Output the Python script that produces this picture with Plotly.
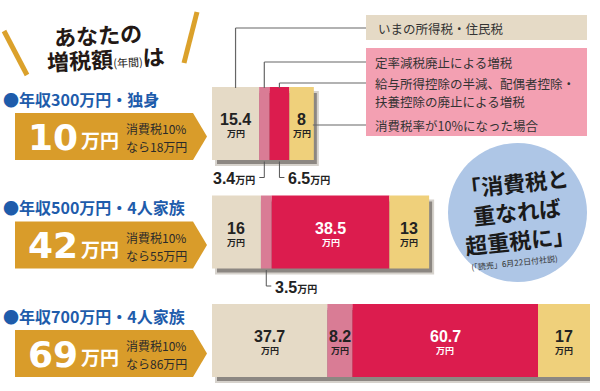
import plotly.graph_objects as go

# ---------------- data ----------------
rows = ["年収300万円・独身", "年収500万円・4人家族", "年収700万円・4人家族"]
increase_label = ["10", "42", "69"]          # 増税額 (万円)
with_vat_label = ["18", "55", "86"]          # 消費税10%なら (万円)
categories = [
    "いまの所得税・住民税",
    "定率減税廃止による増税",
    "給与所得控除の半減、配偶者控除・<br>扶養控除の廃止による増税",
    "消費税率が10%になった場合",
]
income_tax = [15.4, 16, 37.7]
flat_cut_abolished = [3.4, 3.5, 8.2]
deduction_cut = [6.5, 38.5, 60.7]
consumption_tax = [8, 13, 17]
series = [income_tax, flat_cut_abolished, deduction_cut, consumption_tax]

# ---------------- styles / layout helpers ----------------
W, H = 600, 391
X0, X1 = 212, 590            # pixel span of the bar axis
ROW0, ROWSP = 123.5, 108.5   # pixel centre of first row and row spacing
BAR_PX = 73
colors = ["#E5DAC6", "#D97C95", "#DC1C4E", "#EFD07B"]
label_colors = ["#222222", "#222222", "#FFFFFF", "#222222"]
JP = "Noto Sans CJK JP"
NUM = "Liberation Sans, Noto Sans CJK JP"
BIG = "DejaVu Sans"

n_rows = len(rows)
row_idx = list(range(n_rows))
totals = [sum(s[i] for s in series) for i in row_idx]
xmax = max(totals)
pxu = (X1 - X0) / xmax
BW = BAR_PX / ROWSP


def PX(px):
    return px / W


def PY(py):
    return 1 - py / H


def DX(px):
    return (px - X0) / pxu


def row_py(i):
    return ROW0 + i * ROWSP


fig = go.Figure()

# shadow behind each bar
fig.add_trace(go.Bar(
    orientation="h", y=row_idx, x=totals, base=[4 / pxu] * n_rows,
    width=BW, offset=-BW / 2 + 5 / ROWSP,
    marker=dict(color="#8C8782", line=dict(color="#D6D2CC", width=2)),
    hoverinfo="skip", showlegend=False,
))

# stacked segments
bases = []
for k, s in enumerate(series):
    b = [sum(series[j][i] for j in range(k)) for i in row_idx]
    bases.append(b)
    fig.add_trace(go.Bar(
        orientation="h", y=row_idx, x=s, base=b, width=BW,
        marker=dict(color=colors[k], line=dict(width=0)),
        name=categories[k], hoverinfo="skip", showlegend=False,
    ))

ann = []
shapes = []

# value labels
outside_side = {(0, 1): "left", (0, 2): "right", (1, 1): "right"}
for k, s in enumerate(series):
    for i in row_idx:
        v = s[i]
        cx = bases[k][i] + v / 2
        txt = f"{v:g}"
        if v >= 7:
            ann.append(dict(x=cx, y=i, xref="x", yref="y", text=f"<b>{txt}</b>",
                            showarrow=False, yshift=4, xanchor="center", yanchor="middle",
                            font=dict(family=NUM, size=16, color=label_colors[k])))
            ann.append(dict(x=cx, y=i, xref="x", yref="y", text="<b>万円</b>",
                            showarrow=False, yshift=-10, xanchor="center", yanchor="middle",
                            font=dict(family=JP, size=9, color=label_colors[k])))
        else:
            side = outside_side.get((i, k), "right")
            cy = row_py(i)
            ytxt = cy + 55
            shapes.append(dict(type="line", xref="x", yref="paper", x0=cx, x1=cx,
                               y0=PY(cy + 38), y1=PY(ytxt - 1),
                               line=dict(color="#555", width=1)))
            dx = -5 / pxu if side == "left" else 5 / pxu
            shapes.append(dict(type="line", xref="x", yref="paper", x0=cx, x1=cx + dx,
                               y0=PY(ytxt - 1), y1=PY(ytxt - 1),
                               line=dict(color="#555", width=1)))
            ann.append(dict(x=cx + dx + (-2 / pxu if side == "left" else 2 / pxu),
                            y=PY(ytxt), xref="x", yref="paper",
                            xanchor="right" if side == "left" else "left", yanchor="middle",
                            text=f"<b>{txt}</b><span style='font-size:10px'><b>万円</b></span>",
                            showarrow=False,
                            font=dict(family=NUM, size=16, color="#222")))

# legend boxes
shapes.append(dict(type="rect", xref="paper", yref="paper", x0=PX(366), x1=PX(587),
                   y0=PY(15), y1=PY(40), fillcolor="#E5DAC6", line=dict(width=0), layer="below"))
shapes.append(dict(type="rect", xref="paper", yref="paper", x0=PX(366), x1=PX(587),
                   y0=PY(48), y1=PY(136), fillcolor="#F3A0B2", line=dict(width=0), layer="below"))
legend_text_py = [[28], [62], [83, 101], [125]]
legend_line_py = [28, 62, 83, 125]
for k, cat in enumerate(categories):
    for line_txt, ly in zip(cat.split("<br>"), legend_text_py[k]):
        ann.append(dict(x=PX(373 if k else 376), y=PY(ly), xref="paper", yref="paper",
                        xanchor="left", yanchor="middle", text=line_txt, showarrow=False,
                        font=dict(family=JP, size=12.5, color="#333")))
# connector lines from legend to first row
top0 = row_py(0) - BAR_PX / 2
for k in range(3):
    cx = bases[k][0] + series[k][0] / 2
    ly = legend_line_py[k]
    shapes.append(dict(type="line", xref="x", yref="paper", x0=cx, x1=cx,
                       y0=PY(top0 + 1), y1=PY(ly), line=dict(color="#666", width=1.2)))
    shapes.append(dict(type="line", xref="x", yref="paper", x0=cx, x1=DX(366),
                       y0=PY(ly), y1=PY(ly), line=dict(color="#666", width=1.2)))
shapes.append(dict(type="line", xref="x", yref="paper", x0=totals[0] - 1 / pxu, x1=DX(366),
                   y0=PY(legend_line_py[3]), y1=PY(legend_line_py[3]),
                   line=dict(color="#666", width=1.2)))

# row headers and arrow labels
for i in row_idx:
    cy = row_py(i)
    ann.append(dict(x=PX(1), y=PY(cy - 25), xref="paper", yref="paper", xanchor="left",
                    yanchor="middle", text="<b>●" + rows[i] + "</b>", showarrow=False,
                    font=dict(family=JP, size=16, color="#1E5CAB")))
    t, b = cy - 10.5, cy + 36.5
    path = (f"M {PX(15)},{PY(t)} L {PX(193)},{PY(t)} L {PX(207)},{PY((t + b) / 2)} "
            f"L {PX(193)},{PY(b)} L {PX(15)},{PY(b)} Z")
    shapes.append(dict(type="path", xref="paper", yref="paper", path=path,
                       fillcolor="#D99C2A", line=dict(width=0), layer="below"))
    ann.append(dict(x=PX(27), y=PY(cy + 14), xref="paper", yref="paper", xanchor="left",
                    yanchor="middle", showarrow=False, borderpad=0,
                    text=f"<b>{increase_label[i]}</b>",
                    font=dict(family=BIG, size=36, color="#FFFFFF")))
    ann.append(dict(x=PX(80), y=PY(cy + 16), xref="paper", yref="paper", xanchor="left",
                    yanchor="middle", showarrow=False, borderpad=0,
                    text="<b>万円</b>",
                    font=dict(family=JP, size=19, color="#FFFFFF")))
    ann.append(dict(x=PX(125), y=PY(cy + 5), xref="paper", yref="paper", xanchor="left",
                    yanchor="middle", showarrow=False, borderpad=0,
                    text="消費税10%",
                    font=dict(family=JP, size=12, color="#2A2A2A")))
    ann.append(dict(x=PX(125), y=PY(cy + 23), xref="paper", yref="paper", xanchor="left",
                    yanchor="middle", showarrow=False, borderpad=0,
                    text=f"なら{with_vat_label[i]}万円",
                    font=dict(family=JP, size=12, color="#2A2A2A")))

# title
shapes.append(dict(type="line", xref="paper", yref="paper", x0=PX(4), y0=PY(31), x1=PX(27),
                   y1=PY(75), line=dict(color="#DBA12B", width=5)))
shapes.append(dict(type="line", xref="paper", yref="paper", x0=PX(197), y0=PY(12), x1=PX(184),
                   y1=PY(63), line=dict(color="#DBA12B", width=5)))
ann.append(dict(x=PX(98), y=PY(34), xref="paper", yref="paper", showarrow=False,
                xanchor="center", yanchor="middle",
                text="<b>あなたの</b>", textangle=-3,
                font=dict(family=JP, size=22, color="#231815")))
ann.append(dict(x=PX(105), y=PY(58), xref="paper", yref="paper", showarrow=False,
                xanchor="center", yanchor="middle",
                text="<b>増税額</b><span style='font-size:11px'>(年間)</span><b>は</b>",
                textangle=-3, font=dict(family=JP, size=22, color="#231815")))

# circle quote
shapes.append(dict(type="circle", xref="paper", yref="paper", x0=PX(448), x1=PX(587),
                   y0=PY(143), y1=PY(282), fillcolor="#AEC6E6", line=dict(width=0), layer="below"))
ann.append(dict(x=PX(517), y=PY(211), xref="paper", yref="paper", showarrow=False,
                xanchor="center", yanchor="middle",
                text="<b>「消費税と<br>重なれば<br>超重税に」</b>", textangle=-6,
                font=dict(family=JP, size=22, color="#1A1A1A")))
ann.append(dict(x=PX(514), y=PY(262), xref="paper", yref="paper", showarrow=False,
                xanchor="center", yanchor="middle",
                text="(「読売」6月22日付社説)", textangle=-6,
                font=dict(family="Noto Sans CJK JP", size=8, color="#333")))

fig.update_layout(
    width=W, height=H, margin=dict(l=0, r=0, t=0, b=0),
    paper_bgcolor="white", plot_bgcolor="rgba(0,0,0,0)",
    barmode="overlay", showlegend=False,
    xaxis=dict(domain=[X0 / W, X1 / W], range=[0, xmax], visible=False, fixedrange=True),
    yaxis=dict(domain=[0, 1], range=[(H - ROW0) / ROWSP, -ROW0 / ROWSP], visible=False,
               fixedrange=True),
    annotations=ann, shapes=shapes,
)

fig.write_html("out.html", config={"displayModeBar": False},
               post_script="document.body.style.margin='0px';document.body.style.overflow='hidden';")
